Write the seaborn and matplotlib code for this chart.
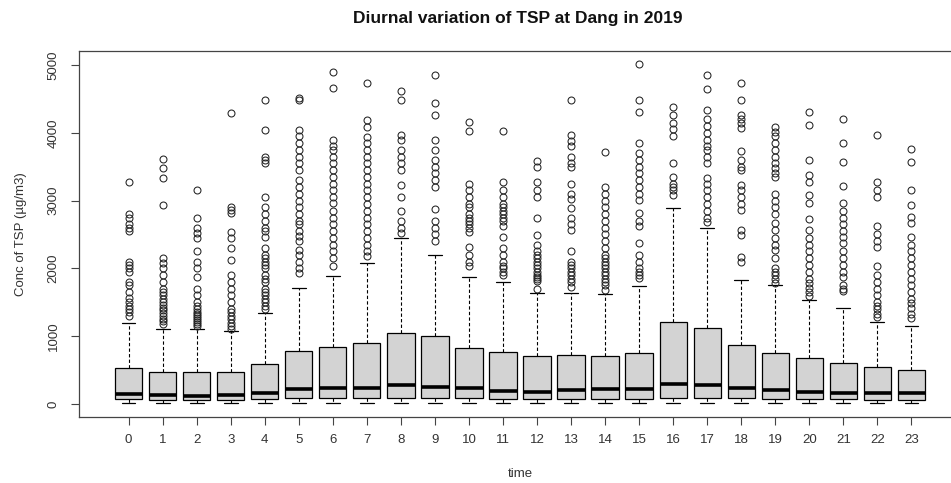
import numpy as np
import pandas as pd
import matplotlib
matplotlib.use("Agg")
import matplotlib.pyplot as plt
import seaborn as sns

hours = list(range(24))
lo_vals  = [15, 12, 10, 10, 15, 15, 15, 15, 15, 15, 15, 15, 12, 12, 12, 12, 15, 15, 15, 12, 12, 12, 10, 10]
q1_vals  = [70, 60, 55, 55, 80, 90, 90, 90, 90, 90, 85, 80, 75, 75, 80, 80, 90, 90, 85, 80, 75, 70, 65, 65]
med_vals = [150, 133, 125, 133, 167, 216, 231, 231, 280, 246, 240, 196, 182, 206, 216, 216, 295, 280, 231, 206, 182, 157, 167, 157]
q3_vals  = [526, 477, 477, 470, 590, 786, 846, 905, 1052, 1003, 821, 772, 708, 723, 708, 757, 1214, 1116, 875, 757, 674, 609, 550, 501]
hi_vals  = [1200, 1100, 1100, 1076, 1347, 1706, 1888, 2075, 2443, 2198, 1878, 1800, 1632, 1642, 1617, 1740, 2890, 2591, 1829, 1755, 1534, 1411, 1214, 1150]
outliers = [
    [1300,1350,1400,1450,1500,1560,1650,1750,1800,1950,2000,2050,2100,2550,2600,2650,2750,2800,3270],
    [1180,1220,1260,1300,1340,1380,1420,1460,1500,1550,1600,1650,1700,1800,1900,2000,2080,2150,2940,3330,3480,3620],
    [1150,1180,1210,1240,1270,1300,1330,1360,1400,1450,1500,1600,1700,1880,2000,2100,2250,2450,2520,2600,2740,3150],
    [1100,1150,1200,1250,1300,1350,1400,1500,1600,1700,1800,1900,2130,2300,2450,2530,2820,2860,2900,4290],
    [1400,1450,1500,1550,1600,1650,1700,1800,1850,1900,2000,2050,2100,2150,2200,2300,2470,2550,2600,2700,2800,2900,3060,3550,3600,3650,4040,4480],
    [1930,2000,2100,2200,2270,2400,2480,2550,2650,2700,2800,2900,3000,3100,3200,3300,3450,3550,3650,3750,3850,3950,4040,4480,4520],
    [2030,2150,2250,2350,2450,2550,2650,2750,2850,2960,3060,3150,3250,3350,3450,3550,3650,3750,3800,3890,4660,4900],
    [2180,2250,2350,2450,2550,2650,2750,2850,2950,3050,3150,3250,3350,3450,3550,3650,3750,3850,3940,4090,4190,4740],
    [2520,2600,2700,2840,3060,3230,3450,3550,3650,3750,3900,3970,4480,4620],
    [2400,2500,2600,2700,2880,3200,3300,3400,3500,3600,3750,3890,4260,4440,4850],
    [2030,2100,2200,2320,2540,2600,2650,2700,2750,2800,2900,2950,3050,3150,3250,4020,4160],
    [1900,1950,2000,2030,2100,2200,2300,2470,2620,2700,2750,2800,2850,2900,2950,3050,3150,3280,4020],
    [1700,1820,1850,1880,1900,1950,2000,2050,2100,2150,2200,2250,2350,2490,2740,3060,3150,3280,3500,3580],
    [1720,1800,1850,1900,1950,2000,2050,2100,2250,2570,2650,2750,2890,3030,3100,3250,3500,3550,3650,3800,3880,3970,4480],
    [1680,1750,1800,1850,1900,1950,2000,2050,2100,2150,2200,2300,2400,2500,2600,2700,2800,2900,3000,3100,3200,3710],
    [1860,1900,1950,2000,2100,2200,2370,2620,2700,2810,3010,3100,3200,3300,3400,3500,3600,3700,3850,4310,4490,5010],
    [3080,3150,3200,3250,3350,3550,3950,4050,4150,4260,4380],
    [2680,2750,2850,2950,3050,3150,3250,3330,3550,3650,3750,3800,3900,4000,4100,4200,4340,4640,4850],
    [2100,2170,2490,2570,2860,2950,3050,3150,3230,3450,3500,3600,3730,4070,4150,4200,4260,4490,4730],
    [1790,1850,1900,1950,2000,2150,2270,2350,2450,2570,2670,2800,2900,3000,3100,3350,3400,3480,3550,3650,3750,3850,3950,4010,4080],
    [1590,1650,1710,1780,1850,1950,2050,2150,2250,2350,2450,2570,2730,2960,3080,3280,3380,3600,4120,4300],
    [1660,1700,1760,1880,1950,2050,2150,2250,2370,2470,2550,2650,2750,2850,2960,3210,3570,3850,4200],
    [1290,1330,1400,1450,1500,1600,1700,1800,1900,2030,2320,2400,2500,2620,3060,3150,3280,3970],
    [1270,1330,1410,1490,1550,1650,1750,1850,1950,2050,2150,2250,2350,2470,2670,2760,2940,3160,3570,3760],
]

# Build a long table whose box statistics reproduce the values read above
rows_t, rows_v = [], []
for h, lo, q1, md, q3, hi, outs in zip(hours, lo_vals, q1_vals, med_vals, q3_vals, hi_vals, outliers):
    m = len(outs)
    n = 2 * m + 10
    vals = [lo] * (n + m) + [q1] * n + [md] * n + [q3] * n + [hi] * n + list(outs)
    rows_v += vals
    rows_t += [str(h)] * len(vals)
df = pd.DataFrame({"time": rows_t, "conc": rows_v})

sns.set_style("white")
plt.rcParams["font.family"] = ["Liberation Sans", "DejaVu Sans"]

fig = plt.figure(figsize=(9.51, 4.83), dpi=100)
ax = fig.add_axes([79 / 951, 1 - 417 / 483, (961 - 79) / 951, (417 - 51) / 483])

sns.boxplot(
    data=df, x="time", y="conc", order=[str(h) for h in hours], ax=ax,
    color="#D3D3D3", linecolor="black", saturation=1, width=0.8, linewidth=0.9,
    whiskerprops={"linestyle": (0, (3, 2)), "linewidth": 0.8},
    capprops={"linewidth": 0.9},
    medianprops={"linewidth": 2.6, "color": "black"},
    flierprops={"marker": "o", "markerfacecolor": "none", "markeredgecolor": "#222222",
                "markersize": 5.0, "markeredgewidth": 0.75},
)

ax.set_xlim(-1.46, 24.46)
ax.set_ylim(-192, 5206)
ax.set_yticks([0, 1000, 2000, 3000, 4000, 5000])
ax.set_yticklabels(["0", "1000", "2000", "3000", "4000", "5000"], rotation=90, va="center")
ax.tick_params(axis="both", direction="out", length=6, width=0.8, color="#444444",
               labelsize=9.5, labelcolor="#333333", left=True, bottom=True)
ax.tick_params(axis="y", pad=8)
ax.tick_params(axis="x", pad=6)
for s in ax.spines.values():
    s.set_visible(True)
    s.set_color("#444444")
    s.set_linewidth(0.9)

ax.set_xlabel("time", fontsize=9.5, color="#333333", labelpad=16)
ax.set_ylabel("Conc of TSP (µg/m3)", fontsize=9.5, color="#333333", labelpad=15)
fig.text(518 / 951, 1 - 18 / 483, "Diurnal variation of TSP at Dang in 2019",
         ha="center", va="center", fontsize=12.5, fontweight="bold", color="#111111")

fig.savefig("out.png", dpi=100)
